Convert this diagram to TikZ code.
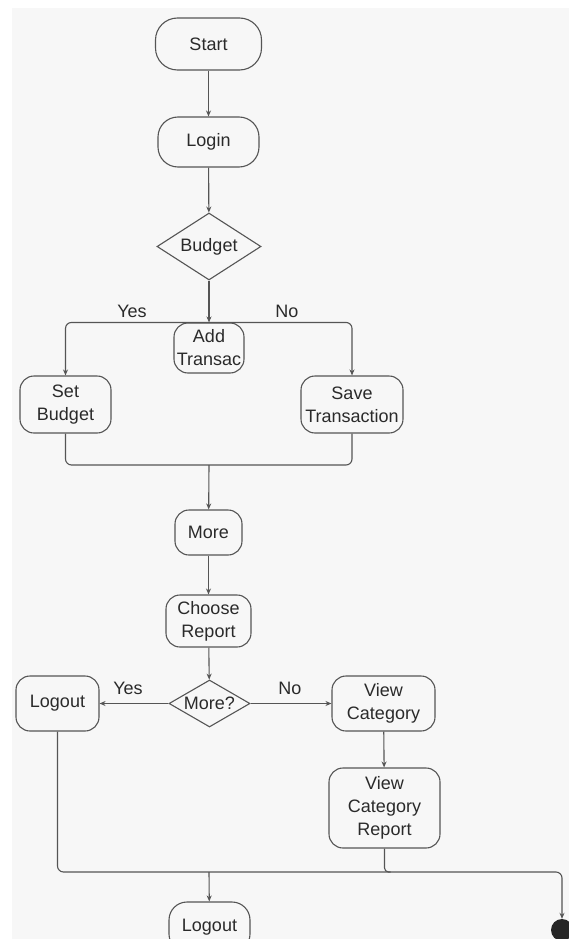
\documentclass[tikz,border=0pt]{standalone}
\usepackage{fontspec}
\setmainfont{Liberation Sans}
\usetikzlibrary{shapes.geometric,arrows.meta}
\definecolor{bgc}{HTML}{F7F7F7}
\definecolor{linec}{HTML}{555555}
\definecolor{textc}{HTML}{2A2A2A}
\tikzset{
  lbl/.style={font=\fontsize{18}{23}\selectfont, text=textc},
  box/.style={draw=linec, line width=1.1pt, rounded corners=#1, fill=bgc, align=center, inner sep=0pt, lbl},
  box/.default=14pt,
  dia/.style={draw=linec, line width=1.1pt, diamond, fill=bgc, inner sep=0pt},
  arr/.style={draw=linec, line width=1.1pt, -{Stealth[length=6pt,width=5pt]}},
  ln/.style={draw=linec, line width=1.1pt},
}
\begin{document}
\begin{tikzpicture}[x={(1pt,0)}, y={(0,-1pt)}]
\useasboundingbox (0,0) rectangle (569,939);
\fill[white] (0,0) rectangle (569,939);
\fill[bgc] (12,8) rectangle (569,939);

\node[box=22pt, minimum width=106pt, minimum height=52pt] (start) at (208.5,44) {Start};
\node[box=20pt, minimum width=101pt, minimum height=50pt] (login) at (208.5,142) {Login};
\node[dia, minimum width=104pt, minimum height=67pt] (budget) at (209,246.5) {};
\node[lbl] (budgett) at (budget) {Budget};
\node[box, minimum width=70pt, minimum height=50pt] (add) at (209,348) {Add\\Transac};
\node[box, minimum width=91pt, minimum height=57pt] (setb) at (65.5,404.5) {Set\\Budget};
\node[box, minimum width=102pt, minimum height=57pt] (save) at (352,404.5) {Save\\Transaction};
\node[box, minimum width=67pt, minimum height=45pt] (more) at (208.5,532.5) {More};
\node[box, minimum width=85pt, minimum height=52pt] (choose) at (208.5,621) {Choose\\Report};
\node[dia, minimum width=81pt, minimum height=47pt] (moreq) at (209.5,703.5) {};
\node[lbl] (moreqt) at (moreq) {More?};
\node[box, minimum width=83pt, minimum height=55pt] (logout1) at (57.5,703.5) {Logout};
\node[box, minimum width=103pt, minimum height=55pt] (viewcat) at (383.5,703.5) {View\\Category};
\node[box, minimum width=111pt, minimum height=80pt] (vcr) at (384.5,808) {View\\Category\\Report};
\node[box=18pt, minimum width=81pt, minimum height=50pt] (logout2) at (209.5,927) {Logout};
\node[circle, fill=black!85, inner sep=0pt, minimum size=22pt] (dot) at (562,930) {};

\coordinate (m) at (209,465);
\coordinate (j) at (209,872);

\draw[arr] (start) -- (login);
\draw[arr] (login) -- (budget);
\draw[arr] (budget) -- (add);
\draw[arr, rounded corners=6pt] (add.north) -| (setb.north);
\draw[arr, rounded corners=6pt] (add.north) -| (save.north);
\draw[ln, rounded corners=6pt] (setb.south) |- (m) -| (save.south);
\draw[arr] (m) -- (more);
\draw[arr] (more) -- (choose);
\draw[arr] (choose) -- (moreq);
\draw[arr] (moreq) -- (logout1);
\draw[arr] (moreq) -- (viewcat);
\draw[arr] (viewcat) -- (vcr);
\draw[arr, rounded corners=6pt] (logout1.south) |- (j) -| (dot.north);
\draw[ln, rounded corners=4pt] (vcr.south) |- ([xshift=6pt]vcr.south |- j);
\draw[arr] (j) -- (logout2);

\node[lbl] (yes1) at (132,311) {Yes};
\node[lbl] (no1) at (287,311) {No};
\node[lbl] (yes2) at (128,688) {Yes};
\node[lbl] (no2) at (290,688) {No};
\end{tikzpicture}
\end{document}
